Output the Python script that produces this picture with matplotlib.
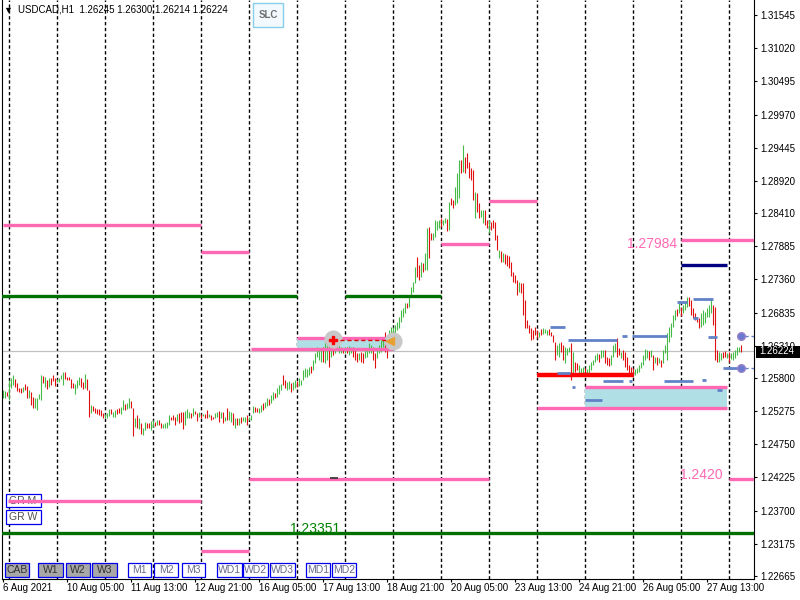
import matplotlib
matplotlib.use("Agg")
import matplotlib.pyplot as plt
from matplotlib.patches import Rectangle

plt.rcParams['font.family'] = ['Liberation Sans', 'DejaVu Sans']

# ---- data -------------------------------------------------------------
header_text = "USDCAD,H1  1.26245 1.26300 1.26214 1.26224"
last_price = 1.26224

# H1 bars, 6 Aug 21:00 .. 30 Aug 06:00 (bar index 0..369)
highs = [
    1.2561, 1.2559, 1.2558, 1.2577, 1.2580, 1.2585, 1.2578, 1.2572, 1.2564, 1.2564,
    1.2566, 1.2571, 1.2567, 1.2561, 1.2558, 1.2550, 1.2548, 1.2548, 1.2555, 1.2585,
    1.2583, 1.2581, 1.2577, 1.2580, 1.2580, 1.2585, 1.2580, 1.2578, 1.2580, 1.2585,
    1.2589, 1.2589, 1.2581, 1.2581, 1.2578, 1.2572, 1.2571, 1.2577, 1.2581, 1.2580,
    1.2574, 1.2586, 1.2578, 1.2561, 1.2537, 1.2535, 1.2532, 1.2531, 1.2531, 1.2529,
    1.2524, 1.2523, 1.2524, 1.2531, 1.2531, 1.2526, 1.2529, 1.2531, 1.2532, 1.2534,
    1.2545, 1.2539, 1.2540, 1.2548, 1.2543, 1.2532, 1.2516, 1.2521, 1.2516, 1.2508,
    1.2501, 1.2510, 1.2508, 1.2508, 1.2512, 1.2513, 1.2510, 1.2513, 1.2513, 1.2508,
    1.2507, 1.2508, 1.2510, 1.2521, 1.2519, 1.2521, 1.2518, 1.2523, 1.2524, 1.2526,
    1.2526, 1.2527, 1.2531, 1.2526, 1.2524, 1.2532, 1.2527, 1.2524, 1.2526, 1.2523,
    1.2523, 1.2523, 1.2529, 1.2523, 1.2521, 1.2519, 1.2524, 1.2526, 1.2527, 1.2526,
    1.2526, 1.2519, 1.2532, 1.2527, 1.2526, 1.2524, 1.2516, 1.2516, 1.2516, 1.2518,
    1.2519, 1.2518, 1.2521, 1.2518, 1.2521, 1.2535, 1.2534, 1.2532, 1.2532, 1.2537,
    1.2540, 1.2542, 1.2548, 1.2546, 1.2553, 1.2558, 1.2556, 1.2564, 1.2569, 1.2571,
    1.2585, 1.2577, 1.2574, 1.2575, 1.2572, 1.2574, 1.2577, 1.2575, 1.2580, 1.2577,
    1.2593, 1.2596, 1.2595, 1.2598, 1.2599, 1.2609, 1.2620, 1.2629, 1.2624, 1.2628,
    1.2629, 1.2637, 1.2635, 1.2637, 1.2645, 1.2645, 1.2643, 1.2648, 1.2640, 1.2629,
    1.2627, 1.2629, 1.2629, 1.2631, 1.2629, 1.2629, 1.2624, 1.2620, 1.2620, 1.2621,
    1.2620, 1.2624, 1.2628, 1.2635, 1.2632, 1.2629, 1.2620, 1.2627, 1.2632, 1.2640,
    1.2645, 1.2653, 1.2645, 1.2656, 1.2661, 1.2661, 1.2664, 1.2669, 1.2676, 1.2688,
    1.2691, 1.2699, 1.2699, 1.2708, 1.2724, 1.2732, 1.2756, 1.2771, 1.2759, 1.2764,
    1.2762, 1.2778, 1.2817, 1.2819, 1.2809, 1.2809, 1.2830, 1.2828, 1.2830, 1.2833,
    1.2830, 1.2833, 1.2832, 1.2859, 1.2865, 1.2862, 1.2882, 1.2904, 1.2925, 1.2925,
    1.2949, 1.2930, 1.2936, 1.2922, 1.2912, 1.2909, 1.2874, 1.2873, 1.2857, 1.2846,
    1.2846, 1.2846, 1.2830, 1.2830, 1.2827, 1.2830, 1.2827, 1.2806, 1.2783, 1.2781,
    1.2778, 1.2777, 1.2775, 1.2773, 1.2764, 1.2748, 1.2743, 1.2735, 1.2732, 1.2730,
    1.2730, 1.2703, 1.2672, 1.2664, 1.2659, 1.2656, 1.2661, 1.2656, 1.2653, 1.2657,
    1.2659, 1.2657, 1.2656, 1.2657, 1.2653, 1.2648, 1.2637, 1.2632, 1.2635, 1.2637,
    1.2632, 1.2629, 1.2627, 1.2629, 1.2635, 1.2621, 1.2605, 1.2604, 1.2601, 1.2596,
    1.2598, 1.2596, 1.2594, 1.2601, 1.2605, 1.2609, 1.2616, 1.2620, 1.2618, 1.2624,
    1.2624, 1.2624, 1.2613, 1.2612, 1.2616, 1.2632, 1.2635, 1.2643, 1.2627, 1.2621,
    1.2624, 1.2621, 1.2613, 1.2601, 1.2598, 1.2596, 1.2594, 1.2596, 1.2601, 1.2605,
    1.2616, 1.2626, 1.2624, 1.2622, 1.2624, 1.2616, 1.2613, 1.2613, 1.2612, 1.2609,
    1.2624, 1.2632, 1.2651, 1.2661, 1.2667, 1.2680, 1.2688, 1.2689, 1.2699, 1.2692,
    1.2696, 1.2700, 1.2708, 1.2708, 1.2703, 1.2691, 1.2683, 1.2677, 1.2675, 1.2683,
    1.2688, 1.2684, 1.2691, 1.2696, 1.2707, 1.2696, 1.2692, 1.2624, 1.2621, 1.2620,
    1.2621, 1.2622, 1.2620, 1.2621, 1.2620, 1.2621, 1.2624, 1.2629, 1.2629, 1.2632,
]
lows = [
    1.2548, 1.2548, 1.2552, 1.2545, 1.2564, 1.2569, 1.2566, 1.2559, 1.2558, 1.2556,
    1.2558, 1.2561, 1.2548, 1.2548, 1.2537, 1.2532, 1.2532, 1.2529, 1.2547, 1.2545,
    1.2572, 1.2566, 1.2562, 1.2566, 1.2569, 1.2575, 1.2567, 1.2574, 1.2574, 1.2578,
    1.2569, 1.2578, 1.2577, 1.2577, 1.2564, 1.2564, 1.2555, 1.2564, 1.2569, 1.2566,
    1.2562, 1.2564, 1.2561, 1.2518, 1.2524, 1.2527, 1.2524, 1.2523, 1.2521, 1.2520,
    1.2516, 1.2516, 1.2516, 1.2520, 1.2523, 1.2518, 1.2518, 1.2523, 1.2524, 1.2523,
    1.2529, 1.2529, 1.2531, 1.2532, 1.2532, 1.2488, 1.2502, 1.2501, 1.2499, 1.2492,
    1.2490, 1.2498, 1.2501, 1.2501, 1.2498, 1.2502, 1.2504, 1.2505, 1.2505, 1.2501,
    1.2501, 1.2501, 1.2501, 1.2505, 1.2513, 1.2513, 1.2505, 1.2512, 1.2508, 1.2510,
    1.2499, 1.2505, 1.2516, 1.2516, 1.2516, 1.2520, 1.2523, 1.2512, 1.2518, 1.2516,
    1.2520, 1.2516, 1.2516, 1.2518, 1.2513, 1.2515, 1.2516, 1.2518, 1.2510, 1.2516,
    1.2508, 1.2512, 1.2513, 1.2513, 1.2510, 1.2505, 1.2501, 1.2505, 1.2505, 1.2508,
    1.2512, 1.2510, 1.2505, 1.2513, 1.2513, 1.2524, 1.2526, 1.2526, 1.2524, 1.2526,
    1.2529, 1.2532, 1.2535, 1.2537, 1.2540, 1.2545, 1.2548, 1.2550, 1.2555, 1.2561,
    1.2569, 1.2564, 1.2561, 1.2562, 1.2558, 1.2561, 1.2564, 1.2566, 1.2567, 1.2569,
    1.2577, 1.2582, 1.2582, 1.2585, 1.2588, 1.2593, 1.2604, 1.2613, 1.2609, 1.2605,
    1.2605, 1.2604, 1.2609, 1.2597, 1.2613, 1.2616, 1.2619, 1.2629, 1.2619, 1.2619,
    1.2619, 1.2619, 1.2619, 1.2616, 1.2619, 1.2613, 1.2609, 1.2605, 1.2609, 1.2605,
    1.2604, 1.2612, 1.2613, 1.2619, 1.2619, 1.2609, 1.2596, 1.2612, 1.2619, 1.2621,
    1.2629, 1.2621, 1.2612, 1.2635, 1.2637, 1.2645, 1.2651, 1.2656, 1.2659, 1.2669,
    1.2676, 1.2683, 1.2691, 1.2692, 1.2708, 1.2716, 1.2730, 1.2740, 1.2735, 1.2740,
    1.2748, 1.2751, 1.2751, 1.2770, 1.2798, 1.2798, 1.2803, 1.2814, 1.2817, 1.2819,
    1.2822, 1.2825, 1.2813, 1.2814, 1.2854, 1.2849, 1.2854, 1.2857, 1.2865, 1.2904,
    1.2906, 1.2904, 1.2912, 1.2897, 1.2893, 1.2862, 1.2833, 1.2843, 1.2833, 1.2835,
    1.2825, 1.2822, 1.2817, 1.2809, 1.2814, 1.2817, 1.2798, 1.2783, 1.2770, 1.2764,
    1.2764, 1.2760, 1.2757, 1.2754, 1.2741, 1.2732, 1.2730, 1.2711, 1.2716, 1.2715,
    1.2680, 1.2659, 1.2659, 1.2651, 1.2640, 1.2642, 1.2648, 1.2643, 1.2645, 1.2648,
    1.2650, 1.2651, 1.2648, 1.2648, 1.2646, 1.2637, 1.2609, 1.2616, 1.2613, 1.2621,
    1.2609, 1.2604, 1.2616, 1.2621, 1.2577, 1.2588, 1.2590, 1.2593, 1.2588, 1.2585,
    1.2588, 1.2585, 1.2586, 1.2588, 1.2593, 1.2601, 1.2605, 1.2609, 1.2605, 1.2612,
    1.2613, 1.2604, 1.2601, 1.2599, 1.2601, 1.2613, 1.2621, 1.2613, 1.2616, 1.2612,
    1.2609, 1.2597, 1.2593, 1.2588, 1.2585, 1.2582, 1.2585, 1.2588, 1.2590, 1.2596,
    1.2601, 1.2609, 1.2612, 1.2609, 1.2613, 1.2593, 1.2604, 1.2601, 1.2604, 1.2597,
    1.2604, 1.2620, 1.2609, 1.2637, 1.2645, 1.2661, 1.2672, 1.2678, 1.2683, 1.2678,
    1.2683, 1.2688, 1.2692, 1.2694, 1.2680, 1.2675, 1.2672, 1.2669, 1.2659, 1.2661,
    1.2664, 1.2667, 1.2676, 1.2676, 1.2683, 1.2664, 1.2609, 1.2605, 1.2605, 1.2609,
    1.2612, 1.2613, 1.2612, 1.2605, 1.2610, 1.2609, 1.2612, 1.2616, 1.2621, 1.2621,
]
# G = bull bar, R = bear bar
dirs = ("GGRGGGRRRR" "GRRGRRGGGG" "RGRGRRRGGG" "GRRRRRGGGR" "RGRRGRRRRR"
        "RGGGRGGRRG" "GRGGRRGRGR" "GGRRGGRGRR" "GGGGRRRGRR" "RGGGRGRRGR"
        "GRRGRRGGRG" "RGRGGRGRGR" "GGRGGGRRGG" "RGGRGGRGGG" "RRGGRGGRGG"
        "GGGGRGGGGG" "RGGRGRGRGG" "RGRGGRRRGR" "RGGGGRRGGG" "GRRGGGGGGG"
        "GGRGGGGRRG" "RGGRRGGGGR" "GGRGRRGGGR" "GRRRRRGRRG" "GRRGRRRRGR"
        "GRRRRRRRGR" "RRRRRRRRGR" "GGGRRRRGGR" "RGGGRGRRGG" "GRGGGGGGRG"
        "GRRRGGGRRG" "RRRRRRGGGG" "GGGRGRGRGR" "GGGGGGGRGR" "GGGRRRRRRG"
        "GGGGGRRRGG" "RRGRGGGGGR")

day_starts = [3, 27, 51, 75, 99, 123, 147, 171, 195, 219, 243, 267, 291, 315, 339, 363]
time_ticks = [0, 32, 64, 96, 128, 160, 192, 224, 256, 288, 320, 352]
time_labels = ["6 Aug 2021", "10 Aug 05:00", "11 Aug 13:00", "12 Aug 21:00",
               "16 Aug 05:00", "17 Aug 13:00", "18 Aug 21:00", "20 Aug 05:00",
               "23 Aug 13:00", "24 Aug 21:00", "26 Aug 05:00", "27 Aug 13:00"]
price_ticks = [1.31545, 1.31020, 1.30495, 1.29970, 1.29445, 1.28920, 1.28410,
               1.27885, 1.27360, 1.26835, 1.26310, 1.25800, 1.25275, 1.24750,
               1.24225, 1.23700, 1.23175, 1.22665]

# level objects: (start bar, end bar, price)
pink_levels = [(0, 99, 1.28222), (99, 123, 1.27794), (124, 195, 1.26251),
               (147, 195, 1.26433), (219, 243, 1.27921), (243, 267, 1.28601),
               (339, 375.4, 1.27984), (291, 362, 1.25657), (267, 362, 1.25325),
               (123, 243, 1.24201), (363, 375.4, 1.24201), (2.5, 99, 1.23853),
               (99, 123, 1.23061)]
zones = [(147, 195, 1.26251, 1.26433), (291, 362, 1.25325, 1.25657)]
green_levels = [(-1, 147, 1.27098), (171, 219, 1.27098), (-1, 376, 1.23351)]
navy_levels = [(339, 362, 1.27588)]
red_levels = [(267, 315, 1.25847)]
trade_line = (165, 193, 1.26401)
blue_levels = [(273.4, 280.9, 1.26607), (282.4, 306.9, 1.26401), (309.4, 311.9, 1.26464),
               (314.4, 331.9, 1.26464), (276.9, 283.4, 1.25879), (299.9, 309.9, 1.25752),
               (312.9, 314.4, 1.25752), (330.4, 344.9, 1.25752), (349.4, 351.4, 1.25767),
               (290.9, 299.4, 1.25451), (336.9, 341.9, 1.27003), (344.9, 354.9, 1.27050),
               (344.9, 347.4, 1.26750), (352.4, 356.9, 1.26449), (359.9, 369.4, 1.25958),
               (356.9, 359.4, 1.25610), (284.4, 285.9, 1.25657)]
blue_dots = [(369, 1.26464), (369, 1.25958)]

bottom_buttons = ["CAB", "W1", "W2", "W3", "M1", "M2", "M3",
                  "WD1", "WD2", "WD3", "MD1", "MD2"]
side_buttons = ["GR M", "GR W"]

# ---- layout helpers (pixel -> figure) ---------------------------------
W, H = 800, 600
def fx(x): return x / W
def fy(y): return 1 - y / H

fig = plt.figure(figsize=(8, 6), dpi=100)
ax = fig.add_axes([fx(2), fy(579), 752 / W, 579 / H])
ax.set_xlim(-0.65, 375.35)
ax.set_ylim(1.22618, 1.31783)

# day separators
for d in day_starts:
    ax.axvline(d, color='black', lw=1.0, linestyle=(0, (2.4, 1.8)), zorder=1)

# current bid line
ax.axhline(last_price, color='#c0c0c0', lw=0.9, zorder=1.5)

# zones (background)
for x0, x1, p0, p1 in zones:
    ax.add_patch(Rectangle((x0, p0), x1 - x0, p1 - p0, facecolor='#b0e0e6',
                           edgecolor='none', zorder=1.2))

# bars
idx = list(range(len(highs)))
cols = ['#44bb44' if d == 'G' else '#e01010' for d in dirs]
ax.vlines(idx, lows, highs, colors=cols, lw=0.8, zorder=2)

# levels
for x0, x1, p in pink_levels:
    ax.hlines(p, x0, x1, color='#ff69b4', lw=2.4, zorder=3)
for x0, x1, p in green_levels:
    ax.hlines(p, x0, x1, color='#007000', lw=2.4, zorder=3)
for x0, x1, p in navy_levels:
    ax.hlines(p, x0, x1, color='#000080', lw=2.4, zorder=3)
for x0, x1, p in red_levels:
    ax.hlines(p, x0, x1, color='#ff0000', lw=3.2, zorder=3)
for x0, x1, p in blue_levels:
    ax.hlines(p, x0, x1, color='#6282c8', lw=2.0, zorder=3)
for b, p in blue_dots:
    ax.hlines(p, b + 1.5, 375.4, color='#6282c8', lw=1.0, linestyle=(0, (3, 2)), zorder=3)
    ax.plot(b, p, 'o', ms=5.5, color='#6a7ad0', mec='#9a80c8', zorder=4)
ax.hlines(1.24217, 163.4, 167.4, color='#303030', lw=1.2, zorder=3)

# trade marks
x0, x1, p = trade_line
ax.plot([164.85, 194.85], [1.26417, 1.26385], 'o', ms=12, color='#c8c8c8', zorder=3.5)
ax.hlines(p, x0, x1, color='#e00000', lw=1.0, linestyle=(0, (3, 2)), zorder=3.6)
ax.plot(164.85, p, 'P', ms=6, color='#ff0000', zorder=3.7)
ax.plot(193.4, 1.26385, '<', ms=5.5, color='#e8a030', zorder=3.7)

# level labels
ax.text(311.85, 1.27921, "1.27984", color='#ff69b4', fontsize=10, va='center', zorder=4)
ax.text(338.35, 1.24264, "1.2420", color='#ff69b4', fontsize=10, va='center', zorder=4)
ax.text(143.35, 1.23410, "1.23351", color='#008000', fontsize=10, va='center', zorder=4)

# axes styling
ax.spines['top'].set_visible(False)
for s in ['left', 'right', 'bottom']:
    ax.spines[s].set_color('black')
    ax.spines[s].set_linewidth(0.8)
ax.yaxis.tick_right()
ax.set_yticks(price_ticks, [f"{v:.5f}" for v in price_ticks])
ax.tick_params(axis='y', length=2.2, width=0.8, pad=2.5, labelsize=7, colors='black')
ax.set_xticks(time_ticks, time_labels)
ax.tick_params(axis='x', length=2.2, width=0.8, pad=1.0, labelsize=7, colors='black')
for lab in ax.get_xticklabels():
    lab.set_horizontalalignment('left')

# header
ax.text(fx(3.5), fy(10), "\u25bc", transform=fig.transFigure, fontsize=6.5,
        va='center', zorder=6, clip_on=False)
ax.text(fx(18), fy(10), header_text, transform=fig.transFigure, fontsize=7,
        va='center', zorder=6, clip_on=False)

# SLC button
ax.add_patch(Rectangle((fx(253), fy(27)), 30 / W, 24 / H, transform=fig.transFigure,
                       facecolor='#f2faff', edgecolor='#87ceeb', lw=1, zorder=6, clip_on=False))
ax.text(fx(268), fy(15), "SLC", transform=fig.transFigure, fontsize=7, fontweight='bold',
        color='#707070', ha='center', va='center', zorder=7, clip_on=False)

# GR buttons (under the pink level)
for lab, (y0, y1) in zip(side_buttons, [(494, 507), (510, 524)]):
    ax.add_patch(Rectangle((fx(6), fy(y1)), 35 / W, (y1 - y0) / H, transform=fig.transFigure,
                           facecolor='white', edgecolor='#0000ee', lw=0.9, zorder=2.5, clip_on=False))
    ax.text(fx(9), fy((y0 + y1) / 2), lab, transform=fig.transFigure, fontsize=7.5,
            color='#505050', va='center', zorder=2.6, clip_on=False)

# bottom buttons
spans = [(5, 29), (38, 63), (66, 90), (92, 117), (128, 151), (154, 178), (182, 205),
         (217, 242), (243, 268), (270, 295), (306, 330), (332, 356)]
for k, (lab, (x0, x1)) in enumerate(zip(bottom_buttons, spans)):
    grey = k < 4
    ax.add_patch(Rectangle((fx(x0), fy(577)), (x1 - x0) / W, 14 / H, transform=fig.transFigure,
                           facecolor='#a8a8a8' if grey else 'white', edgecolor='#0000ee',
                           lw=0.9, zorder=6, clip_on=False))
    ax.text(fx((x0 + x1) / 2), fy(570), lab, transform=fig.transFigure, fontsize=7.5,
            color='#303030' if grey else '#6a6a90', ha='center', va='center',
            zorder=7, clip_on=False)

# price tag (covers the lower half of the 1.26310 label, as in the terminal)
fig.add_artist(Rectangle((fx(756), fy(357.5)), 44 / W, 12 / H, transform=fig.transFigure,
                         facecolor='black', edgecolor='none'))
fig.text(fx(759), fy(351.5), f"{last_price:.5f}", color='white', fontsize=7, va='center')
fig.add_artist(Rectangle((fx(750), fy(241.5)), 4 / W, 3 / H, transform=fig.transFigure,
                         facecolor='#ff69b4', edgecolor='none'))

fig.savefig("out.png", dpi=100, facecolor='white')
